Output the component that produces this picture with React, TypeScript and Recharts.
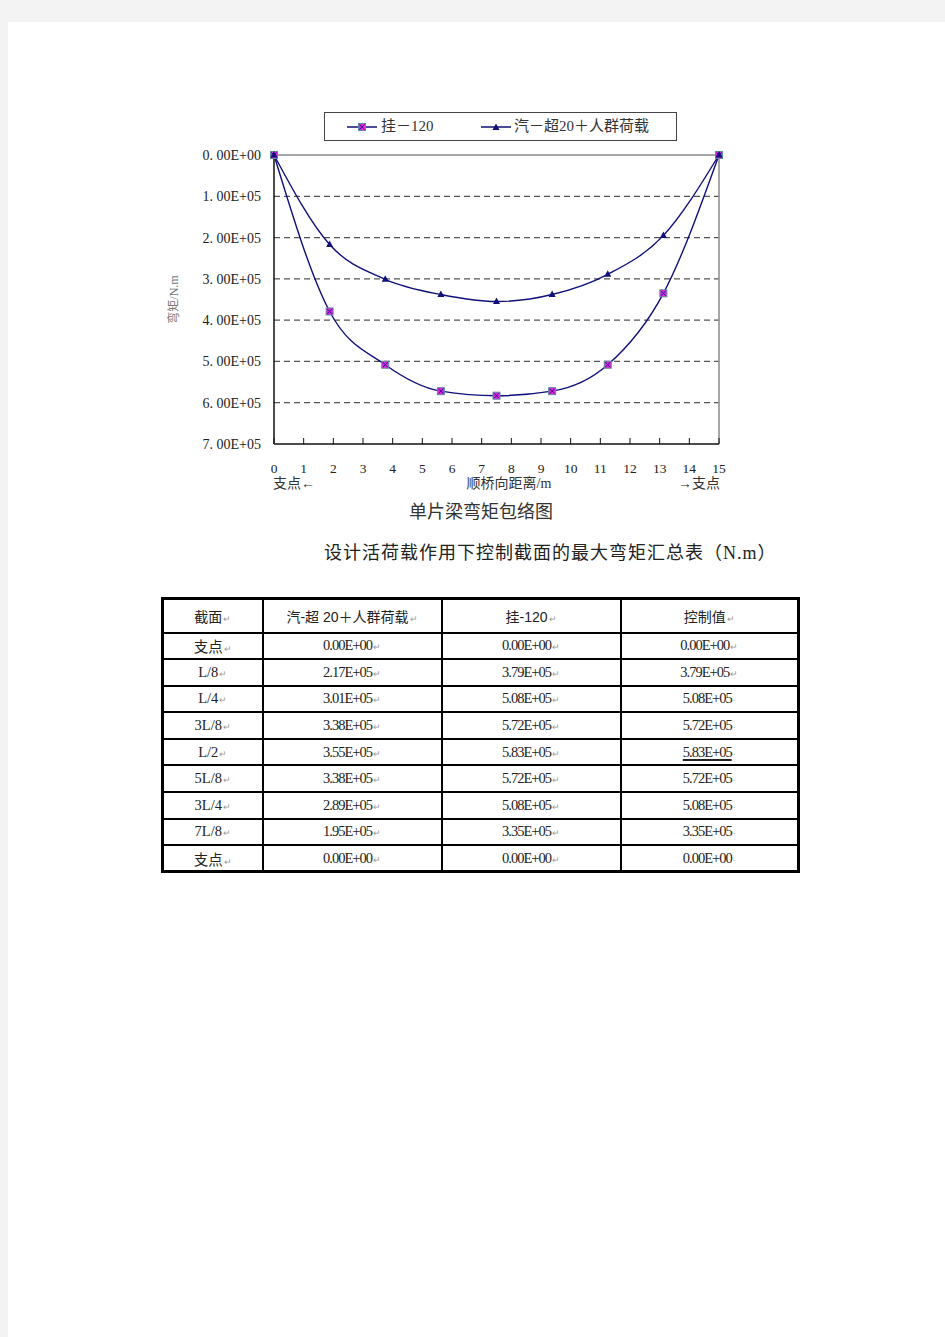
import { LineChart, Line, XAxis, YAxis, ReferenceLine } from 'recharts'

// sections along the span (L = 15 m)
const sections = ['支点', 'L/8', 'L/4', '3L/8', 'L/2', '5L/8', '3L/4', '7L/8', '支点']
const positions = [0, 1.875, 3.75, 5.625, 7.5, 9.375, 11.25, 13.125, 15]
const qichao = [0, 217000, 301000, 338000, 355000, 338000, 289000, 195000, 0]
const gua = [0, 379000, 508000, 572000, 583000, 572000, 508000, 335000, 0]
const control = [0, 379000, 508000, 572000, 583000, 572000, 508000, 335000, 0]

const xTicks = [0, 1, 2, 3, 4, 5, 6, 7, 8, 9, 10, 11, 12, 13, 14, 15]
const yTicks = [0, 100000, 200000, 300000, 400000, 500000, 600000, 700000]
const gridValues = [100000, 200000, 300000, 400000, 500000, 600000]

const headers = ['截面', '汽-超 20＋人群荷载', '挂-120', '控制值']

const SERIF = "'Liberation Serif', 'Noto Sans CJK SC', serif"
const SANS = "'Liberation Sans', 'Noto Sans CJK SC', sans-serif"
const NAVY = '#10107a'

function sci(v: number, spaced: boolean): string {
  const exp = v === 0 ? 0 : Math.floor(Math.log10(v))
  const m = (v / Math.pow(10, exp)).toFixed(2)
  return `${spaced ? m.replace('.', '. ') : m}E+${String(exp).padStart(2, '0')}`
}

const chartData = positions.map((x, i) => ({ x, qichao: qichao[i], gua: gua[i] }))

function SquareDot(props: any) {
  const { cx, cy, index } = props
  if (cx == null || cy == null) return <g key={`sq-${index}`} />
  return (
    <g key={`sq-${index}`}>
      <rect x={cx - 3.5} y={cy - 3.5} width={7} height={7} fill="#e020e0" stroke="#5f8aa0" strokeWidth={1} />
      <path
        d={`M${cx - 2.5},${cy - 2.5}L${cx + 2.5},${cy + 2.5}M${cx + 2.5},${cy - 2.5}L${cx - 2.5},${cy + 2.5}`}
        stroke={NAVY}
        strokeWidth={0.8}
      />
    </g>
  )
}

function TriangleDot(props: any) {
  const { cx, cy, index } = props
  if (cx == null || cy == null) return <g key={`tr-${index}`} />
  return (
    <path
      key={`tr-${index}`}
      d={`M${cx},${cy - 4}L${cx + 3.5},${cy + 2.5}L${cx - 3.5},${cy + 2.5}Z`}
      fill={NAVY}
    />
  )
}

// y-axis title, drawn at the left edge of the axis band
function YLabel(props: any) {
  const { viewBox } = props
  const cx = viewBox.x + 10
  const cy = viewBox.y + viewBox.height / 2
  return (
    <text
      x={cx}
      y={cy}
      transform={`rotate(-90 ${cx} ${cy})`}
      textAnchor="middle"
      dominantBaseline="central"
      fontSize={12}
      fill="#777"
      fontFamily={SERIF}
    >
      弯矩/N.m
    </text>
  )
}

function LegendIcon({ square }: { square: boolean }) {
  return (
    <svg width={30} height={10} style={{ position: 'absolute', top: 9 }}>
      <line x1={0} y1={5} x2={30} y2={5} stroke={NAVY} strokeWidth={1.5} />
      {square ? <SquareDot cx={15} cy={5} index={0} /> : <TriangleDot cx={15} cy={5.5} index={0} />}
    </svg>
  )
}

function abs(left: number, top: number, extra: React.CSSProperties = {}): React.CSSProperties {
  return { position: 'absolute', left, top, whiteSpace: 'nowrap', lineHeight: 1, ...extra }
}

export default function App() {
  const mark = { fontSize: 9, color: '#999', marginLeft: 1, letterSpacing: 0 }
  const cell: React.CSSProperties = { border: '2px solid #000', padding: 0 }
  const num: React.CSSProperties = { ...cell, fontFamily: SERIF, fontSize: 14.5, letterSpacing: -1 }
  return (
    <div style={{ position: 'absolute', left: 0, top: 0, width: 945, height: 1337, background: '#f3f3f3', overflow: 'hidden' }}>
      <div style={{ position: 'absolute', left: 8, top: 22, width: 937, height: 1315, background: '#fff' }} />

      {/* legend */}
      <div
        style={{
          position: 'absolute',
          left: 324,
          top: 112,
          width: 353,
          height: 29,
          border: '1px solid #444',
          boxSizing: 'border-box',
          background: '#fff',
          fontFamily: SERIF,
          fontSize: 15,
          color: '#333',
        }}
      >
        <div style={{ position: 'absolute', left: 22 }}>
          <LegendIcon square />
        </div>
        <div style={abs(56, 6)}>挂－120</div>
        <div style={{ position: 'absolute', left: 156 }}>
          <LegendIcon square={false} />
        </div>
        <div style={abs(189, 6)}>汽－超20＋人群荷载</div>
      </div>

      <div style={{ position: 'absolute', left: 150, top: 100 }}>
        <LineChart width={620} height={420} data={chartData} margin={{ top: 55, right: 51, left: 14, bottom: 46 }}>
          {gridValues.map((v) => (
            <ReferenceLine key={v} y={v} stroke="#555" strokeWidth={1.3} strokeDasharray="6 4" />
          ))}
          <ReferenceLine y={0} stroke="#8a8a8a" strokeWidth={1.5} />
          <ReferenceLine x={15} stroke="#8a8a8a" strokeWidth={1.5} />
          <XAxis
            dataKey="x"
            type="number"
            domain={[0, 15]}
            ticks={xTicks}
            interval={0}
            height={30}
            tickSize={-6}
            tickMargin={25}
            axisLine={{ stroke: '#111', strokeWidth: 1.5 }}
            tickLine={{ stroke: '#111', strokeWidth: 1 }}
            tick={{ fill: '#222', fontSize: 13.5, fontFamily: SERIF }}
          />
          <YAxis
            type="number"
            reversed
            domain={[0, 700000]}
            ticks={yTicks}
            interval={0}
            width={110}
            tickLine={false}
            tickSize={6}
            tickMargin={7}
            tickFormatter={(v: number) => sci(v, true)}
            axisLine={{ stroke: '#111', strokeWidth: 1.5 }}
            tick={{ fill: '#222', fontSize: 14, fontFamily: SERIF }}
            label={{ content: YLabel }}
          />
          <Line
            type="monotone"
            dataKey="gua"
            stroke={NAVY}
            strokeWidth={1.4}
            dot={SquareDot}
            activeDot={false}
            isAnimationActive={false}
          />
          <Line
            type="monotone"
            dataKey="qichao"
            stroke={NAVY}
            strokeWidth={1.4}
            dot={TriangleDot}
            activeDot={false}
            isAnimationActive={false}
          />
        </LineChart>
      </div>

      {/* x-axis captions */}
      <div style={abs(273, 477, { fontFamily: SERIF, fontSize: 14, color: '#333' })}>支点←</div>
      <div style={abs(509, 477, { fontFamily: SERIF, fontSize: 14, color: '#333', transform: 'translateX(-50%)' })}>
        顺桥向距离/m
      </div>
      <div style={abs(720, 477, { fontFamily: SERIF, fontSize: 14, color: '#333', transform: 'translateX(-100%)' })}>
        →支点
      </div>
      <div style={abs(481, 503, { fontFamily: SERIF, fontSize: 18, color: '#333', transform: 'translateX(-50%)' })}>
        单片梁弯矩包络图
      </div>
      <div style={abs(324, 544, { fontFamily: SERIF, fontSize: 18, letterSpacing: 1, color: '#222' })}>
        设计活荷载作用下控制截面的最大弯矩汇总表（N.m）
      </div>

      {/* summary table */}
      <table
        style={{
          position: 'absolute',
          left: 161,
          top: 597,
          width: 636,
          borderCollapse: 'collapse',
          tableLayout: 'fixed',
          border: '3px solid #000',
          color: '#222',
          textAlign: 'center',
        }}
      >
        <colgroup>
          <col style={{ width: 100 }} />
          <col style={{ width: 179 }} />
          <col style={{ width: 179 }} />
          <col style={{ width: 178 }} />
        </colgroup>
        <tbody>
          <tr style={{ height: 34 }}>
            {headers.map((h) => (
              <td key={h} style={{ ...cell, fontFamily: SANS, fontSize: 14 }}>
                {h}
                <span style={mark}>↵</span>
              </td>
            ))}
          </tr>
          {sections.map((s, i) => (
            <tr key={i} style={{ height: 26.6 }}>
              <td style={{ ...cell, fontFamily: SERIF, fontSize: 14.5 }}>
                {s}
                <span style={mark}>↵</span>
              </td>
              <td style={num}>
                {sci(qichao[i], false)}
                <span style={mark}>↵</span>
              </td>
              <td style={num}>
                {sci(gua[i], false)}
                <span style={mark}>↵</span>
              </td>
              <td style={num}>
                <span
                  style={
                    control[i] === Math.max(...control)
                      ? { textDecoration: 'underline', textDecorationThickness: 2, textUnderlineOffset: 2 }
                      : undefined
                  }
                >
                  {sci(control[i], false)}
                </span>
                <span style={mark}>{i < 2 ? '↵' : '·'}</span>
              </td>
            </tr>
          ))}
        </tbody>
      </table>
    </div>
  )
}
